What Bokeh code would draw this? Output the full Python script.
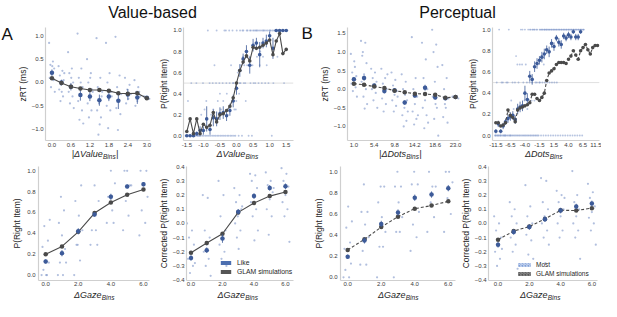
from bokeh.plotting import figure
from bokeh.models import Range1d, FixedTicker, Label, Span, Legend, LegendItem
from bokeh.layouts import column, row
from bokeh.embed import file_html
from bokeh.resources import INLINE

FONT = "Liberation Sans"
BLUE = "#3d5b99"
BLUE_FAINT = "#7d95c8"
DARK = "#4a4a4a"
SPINE = "#cfcfcf"
TXT = "#262626"
TICK_TXT = "#3a3a3a"

# ---------------- data ----------------
# Panel A1: zRT vs |dValue| bins
P1_CATS = ["0.0", "0.3", "0.6", "0.9", "1.2", "1.5", "1.8", "2.1", "2.4", "2.7", "3.0"]
P1_GLAM = [0.09, -0.01, -0.09, -0.13, -0.16, -0.16, -0.18, -0.23, -0.24, -0.23, -0.34]
P1_HUMAN = [0.21, 0.0, -0.09, -0.27, -0.30, -0.38, -0.30, -0.39, -0.26, -0.32, -0.33]
P1_ERR = [0.07, 0.06, 0.08, 0.12, 0.10, 0.12, 0.10, 0.18, 0.12, 0.14, 0.04]
P1_INDIV = [
    [0.85, 0.45, 0.38, 0.3, 0.2, 0.1, 0.05, -0.1, -0.2, 0.35],
    [0.35, 0.25, 0.15, 0.05, -0.05, -0.15, -0.3, -0.4, 0.2, -0.2],
    [0.65, 0.3, 0.2, 0.0, -0.1, -0.2, -0.3, -0.45, -0.55, 0.1],
    [1.05, 0.3, 0.1, -0.1, -0.25, -0.4, -0.6, -0.8, -0.88, 0.0],
    [0.5, 0.2, 0.0, -0.15, -0.3, -0.45, -0.6, -0.75, -0.2, 0.1],
    [0.95, 0.1, -0.1, -0.3, -0.45, -0.6, -0.75, -1.12, -0.2, -0.9],
    [0.85, 0.2, 0.0, -0.2, -0.35, -0.5, -0.6, -0.98, -0.3],
    [0.98, 0.15, -0.1, -0.25, -0.4, -0.55, -0.68, -1.02],
    [0.1, -0.05, -0.15, -0.25, -0.35, -0.45],
    [0.05, -0.1, -0.2, -0.3, -0.4, -0.5, -0.2],
    [-0.3, -0.35],
]
P1_YTICKS = [-1.0, -0.5, 0.0, 0.5, 1.0]

# Panel A2: P(right) vs dValue bins
P2_CATS = ["-1.5", "-1.4", "-1.3", "-1.2", "-1.1", "-1.0", "-0.9", "-0.8", "-0.7", "-0.6",
           "-0.5", "-0.4", "-0.3", "-0.2", "-0.1", "0.0", "0.1", "0.2", "0.3", "0.4",
           "0.5", "0.6", "0.7", "0.8", "0.9", "1.0", "1.1", "1.2", "1.3", "1.4", "1.5"]
P2_GLAM = [0.04, 0.16, 0.02, 0.16, 0.02, 0.11, 0.08, 0.10, 0.22, 0.13, 0.20, 0.21, 0.24, 0.28,
           0.36, 0.50, 0.62, 0.70, 0.76, 0.71, 0.84, 0.83, 0.84, 0.86, 0.88, 0.91, 0.77, 0.90,
           0.97, 0.78, 0.82]
P2_HUMAN = [0.0, 0.0, 0.0, 0.02, 0.05, 0.05, 0.16, 0.06, 0.17, 0.16, 0.21, 0.22, 0.19, 0.24,
            0.33, 0.45, 0.62, 0.73, 0.80, 0.67, 0.86, 0.88, 0.77, 0.88, 0.90, 0.95, 0.83, 1.0,
            1.0, 1.0, 1.0]
P2_ERR = [0.0, 0.0, 0.0, 0.02, 0.04, 0.04, 0.12, 0.05, 0.08, 0.07, 0.06, 0.06, 0.05, 0.05,
          0.06, 0.06, 0.06, 0.05, 0.06, 0.08, 0.06, 0.05, 0.12, 0.05, 0.06, 0.04, 0.10, 0.0,
          0.0, 0.0, 0.0]
P2_INDIV = [
    [0, 0, 0, 0.33], [0, 0, 0, 0.5], [0, 0, 0, 0], [0, 0, 0.5, 0], [0, 0, 0, 0.2],
    [0, 0, 0.5, 0.25], [0, 0, 0.33, 1.0], [0, 0, 0.5, 0.2], [0, 0, 0.5, 0.67, 0.25],
    [0, 0, 0.5, 0.33, 1.0], [0, 0, 0.5, 0.25, 0.4], [0, 0, 0.5, 1.0, 0.33],
    [0, 0, 0.5, 0.2, 0.4, 1.0], [0, 0, 0.5, 0.67, 0.3, 1.0], [0, 0, 0.5, 0.25, 0.5, 1.0],
    [0, 0.5, 0.33, 0.6, 1.0, 0.25], [0, 0.5, 0.5, 0.67, 1.0, 0.4], [0, 0.5, 0.75, 0.67, 1.0, 1.0],
    [0.5, 0.67, 0.8, 1.0, 1.0, 0.33], [0, 0.5, 0.75, 1.0, 1.0, 0.67], [0, 0.5, 0.67, 1.0, 1.0],
    [0.5, 0.75, 1.0, 1.0, 1.0], [0.5, 0.8, 1.0, 1.0, 0.67], [0.5, 1.0, 1.0, 1.0, 0.75],
    [0.5, 0.67, 1.0, 1.0], [0.5, 1.0, 1.0, 1.0], [0, 0.5, 1.0, 1.0], [1.0, 1.0, 1.0, 0.75],
    [1.0, 1.0, 1.0, 1.0], [1.0, 1.0, 1.0, 0.5], [1.0, 1.0, 1.0, 1.0],
]
P_YTICKS = [0.0, 0.2, 0.4, 0.6, 0.8, 1.0]

# Panel B1: zRT vs |dDots| bins
P3_CATS = ["1.0", "3.2", "5.4", "7.6", "9.8", "12.0", "14.2", "16.4", "18.6", "20.8", "23.0"]
P3_GLAM = [0.15, 0.12, 0.07, 0.03, -0.04, -0.08, -0.12, -0.13, -0.15, -0.23, -0.21]
P3_HUMAN = [0.27, 0.30, 0.10, -0.05, -0.03, -0.36, -0.17, 0.04, -0.22, -0.24, -0.21]
P3_ERR = [0.06, 0.07, 0.05, 0.05, 0.05, 0.06, 0.06, 0.08, 0.06, 0.06, 0.03]
P3_INDIV = [
    [0.95, 0.6, 0.45, 0.35, 0.25, 0.15, 0.05, -0.05, -0.2, 0.75],
    [1.3, 1.25, 1.0, 0.7, 0.4, 0.2, 0.0, -0.2, -0.4, -0.52, 0.9],
    [0.55, 0.45, 0.3, 0.2, 0.1, 0.0, -0.1, -0.3, -0.5],
    [0.55, 0.3, 0.15, 0.0, -0.1, -0.25, -0.4, -0.6, 0.4],
    [0.45, 0.25, 0.1, -0.05, -0.15, -0.3, -0.45, -0.6, -0.2],
    [0.4, 0.2, 0.0, -0.3, -0.5, -0.7, -0.85, -1.0, -0.6, -0.15],
    [1.4, 0.3, 0.0, -0.2, -0.4, -0.6, -0.8, -0.95, -0.7],
    [1.25, 0.8, 0.3, 0.0, -0.3, -0.5, -0.7, -1.05, -0.9],
    [1.6, 1.2, 1.0, 0.6, 0.2, -0.2, -0.5, -0.8, -1.25, -0.4],
    [0.65, 0.3, 0.0, -0.25, -0.5, -0.75, -0.9, -0.4],
    [-0.2, -0.25],
]
P3_YTICKS = [-1.0, -0.5, 0.0, 0.5, 1.0, 1.5]

# Panel B2: P(right) vs dDots bins (43 bins, every 6th labelled)
P4_TICK_LABELS = ["-11.5", "-6.5", "-4.0", "-1.5", "1.5", "4.0", "6.5", "11.5"]
P4_GLAM = [0.12, 0.12, 0.09, 0.10, 0.12, 0.24, 0.19, 0.17, 0.13, 0.24, 0.26, 0.27, 0.28, 0.29,
           0.31, 0.39, 0.39, 0.35, 0.33, 0.36, 0.40, 0.52, 0.59, 0.61, 0.63, 0.67, 0.69, 0.69,
           0.69, 0.68, 0.72, 0.75, 0.80, 0.76, 0.72, 0.80, 0.83, 0.86, 0.81, 0.77, 0.83, 0.85,
           0.85]
P4_HUMAN = [0.04, 0.11, 0.04, 0.09, 0.13, 0.16, 0.18, 0.19, 0.15, 0.25, 0.27, 0.28, 0.40, 0.34,
            0.56, 0.53, 0.65, 0.68, 0.71, 0.74, 0.77, 0.81, 0.79, 0.87, 0.84, 0.92, 0.88, 0.86,
            0.94, 0.92, 0.95, 0.93, 0.98, 0.93, 0.93, 0.98]
P4_ERR = [0.02, 0.03, 0.02, 0.03, 0.03, 0.04, 0.04, 0.04, 0.04, 0.05, 0.05, 0.05, 0.07, 0.06,
          0.05, 0.05, 0.05, 0.05, 0.04, 0.05, 0.05, 0.04, 0.05, 0.04, 0.04, 0.03, 0.04, 0.04,
          0.03, 0.03, 0.03, 0.03, 0.02, 0.03, 0.03, 0.02]
P4_INDIV = [
    [0, 0, 0, 0.5], [0, 0, 0, 1.0], [0, 0, 0, 0.5], [0, 0, 0.5, 0], [0, 0, 0, 0.5],
    [0, 0, 0.5, 1.0], [0, 0, 0, 0.33], [0, 0, 0.5, 0.25], [0, 0, 0.5, 0.75], [0, 0, 0.67, 0.5],
    [0, 0, 0.67, 1.0], [0, 0, 0.67, 0.5, 1.0], [0, 0, 0.33, 0.67, 1.0], [0, 0, 0.5, 1.0, 0.25],
    [0, 0, 0.5, 1.0, 1.0, 0.33], [0, 0, 0.5, 1.0, 1.0, 0.33], [0, 0, 0.33, 0.5, 1.0, 1.0],
    [0, 0, 0.5, 0.67, 1.0, 1.0], [0, 0.5, 0.5, 1.0, 1.0, 0.33], [0, 0.5, 0.75, 1.0, 1.0, 1.0],
    [0, 0.5, 1.0, 1.0, 1.0, 0.67], [0, 0.5, 1.0, 1.0, 1.0], [0, 0.5, 1.0, 1.0, 1.0],
    [0, 0.5, 1.0, 1.0, 1.0], [0, 0.5, 1.0, 1.0, 1.0], [0, 0.5, 1.0, 1.0, 1.0],
    [0, 1.0, 1.0, 1.0], [0, 1.0, 1.0, 1.0], [0, 1.0, 1.0, 1.0], [0, 1.0, 1.0, 1.0],
    [0, 1.0, 1.0, 1.0], [0, 1.0, 1.0, 1.0], [0, 1.0, 1.0, 1.0], [0, 1.0, 1.0, 1.0],
    [0, 1.0, 1.0, 1.0], [0, 1.0, 1.0, 1.0], [0, 1.0, 1.0, 1.0],
]

# Bottom row: gaze bins
GAZE_CATS = ["0.0", "1.0", "2.0", "3.0", "4.0", "5.0", "6.0"]
P5_GLAM = [0.20, 0.275, 0.415, 0.595, 0.695, 0.77, 0.82]
P5_HUMAN = [0.13, 0.21, 0.42, 0.58, 0.75, 0.85, 0.87]
P5_ERR = [0.02, 0.03, 0.03, 0.02, 0.03, 0.02, 0.02]
P5_INDIV = [
    [0.0, 0.0, 0.05, 0.12, 0.2, 0.27, 0.33, 0.47, 0.53, 0.0],
    [0.0, 0.0, 0.12, 0.25, 0.38, 0.5, 0.62, 0.75, 0.12],
    [0.0, 0.14, 0.29, 0.43, 0.57, 0.71, 0.86, 0.29],
    [0.29, 0.43, 0.57, 0.71, 0.86, 0.43, 0.29],
    [0.5, 0.62, 0.75, 0.88, 1.0, 0.75, 0.5],
    [0.43, 0.57, 0.71, 0.86, 1.0, 1.0, 0.86],
    [0.38, 0.5, 0.62, 0.75, 0.88, 1.0, 1.0, 0.88],
]
P6_GLAM = [-0.207, -0.138, -0.073, 0.078, 0.144, 0.193, 0.222]
P6_HUMAN = [-0.244, -0.189, -0.107, 0.082, 0.193, 0.251, 0.262]
P6_ERR = [0.02, 0.02, 0.03, 0.02, 0.02, 0.02, 0.02]
P6_INDIV = [
    [0.0, -0.05, -0.1, -0.15, -0.2, -0.25, -0.3, -0.35, -0.28],
    [0.2, 0.18, -0.05, -0.1, -0.15, -0.2, -0.25, -0.3, -0.37],
    [0.3, 0.2, 0.05, -0.05, -0.1, -0.15, -0.2, -0.25, -0.3],
    [0.25, 0.2, 0.15, 0.1, 0.05, 0.0, -0.05, -0.1, 0.12, -0.18],
    [0.35, 0.34, 0.3, 0.25, 0.2, 0.15, 0.1, 0.05, -0.05, -0.12],
    [0.36, 0.3, 0.27, 0.22, 0.17, 0.1, 0.05, -0.08, 0.25],
    [0.39, 0.35, 0.3, 0.26, 0.2, 0.15, 0.1, 0.05, -0.13],
]
P7_GLAM = [0.26, 0.36, 0.476, 0.575, 0.65, 0.68, 0.72]
P7_HUMAN = [0.195, 0.35, 0.506, 0.614, 0.754, 0.784, 0.845]
P7_ERR = [0.02, 0.03, 0.03, 0.03, 0.03, 0.03, 0.03]
P7_INDIV = [
    [0.0, 0.0, 0.07, 0.13, 0.2, 0.27, 0.33, 0.47, 0.53, 0.67],
    [0.12, 0.12, 0.25, 0.38, 0.5, 0.62, 0.62, 0.88],
    [0.0, 0.29, 0.29, 0.43, 0.57, 0.71, 0.86, 0.86],
    [0.0, 0.43, 0.43, 0.57, 0.71, 0.86, 0.86, 1.0],
    [0.25, 0.38, 0.5, 0.62, 0.75, 0.88, 0.88, 1.0],
    [0.43, 0.57, 0.71, 0.86, 0.86, 1.0],
    [0.43, 0.6, 0.75, 0.9, 1.0, 1.0],
]
P8_GLAM = [-0.115, -0.054, -0.022, 0.032, 0.093, 0.091, 0.108]
P8_HUMAN = [-0.151, -0.06, -0.026, 0.03, 0.091, 0.119, 0.141]
P8_ERR = [0.02, 0.02, 0.02, 0.02, 0.02, 0.02, 0.02]
P8_INDIV = [
    [0.05, 0.0, -0.05, -0.1, -0.15, -0.2, -0.25, -0.3, -0.18],
    [0.15, 0.1, 0.05, 0.0, -0.05, -0.1, -0.15, -0.2, -0.32],
    [0.27, 0.12, 0.05, 0.0, -0.03, -0.08, -0.12, -0.22, -0.25],
    [0.32, 0.3, 0.15, 0.1, 0.05, 0.0, -0.05, -0.1, -0.15, -0.28],
    [0.23, 0.2, 0.15, 0.1, 0.05, 0.0, -0.05, -0.1, 0.18],
    [0.37, 0.2, 0.15, 0.1, 0.05, 0.0, -0.05, -0.1, -0.25],
    [0.28, 0.22, 0.18, 0.12, 0.08, 0.04, 0.0, -0.05, -0.15],
]
CORR_YTICKS = [-0.4, -0.3, -0.2, -0.1, 0.0, 0.1, 0.2, 0.3, 0.4]

# ---------------- helpers ----------------
CW = {"|": 0.26, "Δ": 0.67, "V": 0.667, "a": 0.556, "l": 0.222, "u": 0.556, "e": 0.556,
      "D": 0.722, "o": 0.556, "t": 0.278, "s": 0.5, "G": 0.778, "z": 0.5, "B": 0.667,
      "i": 0.222, "n": 0.556}


def text_w(s, size):
    return sum(CW.get(c, 0.55) for c in s) * size


def yfmt(v):
    return ("%.1f" % v).replace("-", "\u2212")


def blank_fig(w, h):
    p = figure(width=w, height=h, x_range=Range1d(0, 1), y_range=Range1d(0, 1),
               min_border=0, x_axis_location=None, y_axis_location=None,
               output_backend="svg", toolbar_location=None)
    p.outline_line_color = None
    p.grid.grid_line_color = None
    p.background_fill_color = "white"
    p.border_fill_color = "white"
    return p


def make_fig(w, h, bl, br, bt, bb, xr, yr):
    p = figure(width=w, height=h, x_range=Range1d(*xr), y_range=Range1d(*yr),
               min_border_left=bl, min_border_right=br, min_border_top=bt,
               min_border_bottom=bb, output_backend="svg", toolbar_location=None)
    p.outline_line_color = None
    p.xgrid.grid_line_color = None
    p.ygrid.grid_line_color = None
    p.background_fill_color = "white"
    p.border_fill_color = "white"
    return p


def style_axes(p, xticks, xlabels, yticks, ylabel, xstand, ystand, lstand):
    xa = p.xaxis[0]
    ya = p.yaxis[0]
    xa.ticker = FixedTicker(ticks=xticks)
    xa.major_label_overrides = {t: l for t, l in zip(xticks, xlabels)}
    ya.ticker = FixedTicker(ticks=yticks)
    ya.major_label_overrides = {t: yfmt(t) for t in yticks}
    ya.axis_label = ylabel
    for ax in (xa, ya):
        ax.axis_line_color = SPINE
        ax.axis_line_width = 1.2
        ax.major_tick_line_color = None
        ax.minor_tick_line_color = None
        ax.major_tick_out = 0
        ax.major_tick_in = 0
        ax.minor_tick_out = 0
        ax.minor_tick_in = 0
        ax.major_label_text_font = FONT
        ax.major_label_text_font_size = "6px"
        ax.major_label_text_color = TICK_TXT
        ax.axis_label_text_font = FONT
        ax.axis_label_text_font_size = "8.5px"
        ax.axis_label_text_font_style = "normal"
        ax.axis_label_text_color = TXT
    xa.major_label_standoff = xstand
    ya.major_label_standoff = ystand
    ya.axis_label_standoff = lstand


def add_xlabel(strip_fig, cx, y, bar, main, sub):
    head = bar + "Δ" + main
    tail = bar
    total = text_w(head, 9) + text_w(sub, 6.5) + text_w(tail, 9)
    split = cx - total / 2.0 + text_w(head, 9)
    common = dict(x_units="screen", y_units="screen", text_font=FONT,
                  text_font_style="italic", text_color=TXT, text_baseline="middle")
    strip_fig.add_layout(Label(x=split, y=y, text=head, text_align="right",
                               text_font_size="9px", **common))
    strip_fig.add_layout(Label(x=split + 0.3, y=y - 2.5, text=sub, text_align="left",
                               text_font_size="6.5px", **common))
    if tail:
        strip_fig.add_layout(Label(x=split + text_w(sub, 6.5) + 0.6, y=y, text=tail,
                                   text_align="left", text_font_size="9px", **common))


def strip(groups, half):
    xs, ys = [], []
    for i, vals in enumerate(groups):
        m = len(vals)
        order = sorted(range(m), key=lambda k: (k * 0.6180339) % 1.0)
        rank = {k: r for r, k in enumerate(order)}
        for k, v in enumerate(vals):
            pos = (rank[k] / (m - 1) - 0.5) if m > 1 else 0.0
            xs.append(i + pos * 2 * half)
            ys.append(v)
    return xs, ys


def draw(p, glam, human, err, indiv, half, dsize, fsize, falpha, dash, human_on_top):
    fx, fy = strip(indiv, half)
    p.scatter(fx, fy, size=fsize, color=BLUE_FAINT, alpha=falpha, line_color=None)
    xg = list(range(len(glam)))
    xh = list(range(len(human)))

    def draw_glam():
        p.line(xg, glam, line_color=DARK, line_width=1.1, line_dash=dash)
        p.scatter(xg, glam, size=dsize, color=DARK, line_color=None)

    def draw_human():
        p.segment(x0=xh, x1=xh, y0=[h - e for h, e in zip(human, err)],
                  y1=[h + e for h, e in zip(human, err)], line_color=BLUE, line_width=1,
                  line_alpha=0.8)
        p.scatter(xh, human, size=dsize, color=BLUE, line_color=None)

    if human_on_top:
        draw_glam()
        draw_human()
    else:
        draw_human()
        draw_glam()


def legend_proxies(p, glam, human, kw_h, kw_g):
    # zero-size quads sitting on the data points: invisible, only used for legend swatches
    xg = list(range(len(glam)))
    xh = list(range(len(human)))
    rh = p.quad(left=xh, right=xh, top=human, bottom=human, line_color=None, **kw_h)
    rg = p.quad(left=xg, right=xg, top=glam, bottom=glam, line_color=None, **kw_g)
    return rh, rg


# ---------------- header ----------------
HH = 23
header = blank_fig(601, HH)
for txt, xc in (("Value-based", 152), ("Perceptual", 457)):
    header.add_layout(Label(x=xc, y=11.5, x_units="screen", y_units="screen", text=txt,
                            text_align="center", text_baseline="alphabetic",
                            text_font=FONT, text_font_size="16px", text_color="#111111"))

# ---------------- top row ----------------
H1 = 126
letterA = blank_fig(14, H1)
letterA.add_layout(Label(x=1, y=106.5, x_units="screen", y_units="screen", text="A",
                         text_font=FONT, text_font_size="17px", text_color="#111111",
                         text_align="left", text_baseline="alphabetic"))

p1 = make_fig(142, H1, 24, 6, 4, 9, (-0.68, 10.39), (-1.245, 1.18))
style_axes(p1, list(range(0, 11, 2)), P1_CATS[0::2], P1_YTICKS, "zRT (ms)", 2, 2, 1)
draw(p1, P1_GLAM, P1_HUMAN, P1_ERR, P1_INDIV, 0.3, 4.5, 2.2, 0.6, "solid", False)

p2 = make_fig(140, H1, 24, 3, 4, 9, (-1.0, 32.2), (-0.045, 1.028))
style_axes(p2, list(range(0, 31, 5)), P2_CATS[0::5], P_YTICKS, "P(Right Item)", 2, 2, 1)
p2.add_layout(Span(location=0.5, dimension="width", line_color="#d8d8d8", line_width=0.8,
                   level="underlay"))
draw(p2, P2_GLAM, P2_HUMAN, P2_ERR, P2_INDIV, 0.35, 3.6, 1.9, 0.55, "solid", False)

letterB = blank_fig(20, H1)
letterB.add_layout(Label(x=5, y=107.5, x_units="screen", y_units="screen", text="B",
                         text_font=FONT, text_font_size="17px", text_color="#111111",
                         text_align="left", text_baseline="alphabetic"))

p3 = make_fig(149, H1, 24, 6, 4, 9, (-0.63, 10.39), (-1.38, 1.66))
style_axes(p3, list(range(0, 11, 2)), P3_CATS[0::2], P3_YTICKS, "zRT (ms)", 2, 2, 1)
draw(p3, P3_GLAM, P3_HUMAN, P3_ERR, P3_INDIV, 0.3, 4.5, 2.2, 0.6, "3 2", False)

p4 = make_fig(136, H1, 22, 2, 4, 9, (-1.39, 42.8), (-0.047, 1.02))
style_axes(p4, list(range(0, 43, 6)), P4_TICK_LABELS, P_YTICKS, "P(Right Item)", 2, 2, 1)
p4.add_layout(Span(location=0.5, dimension="width", line_color="#d8d8d8", line_width=0.8,
                   level="underlay"))
draw(p4, P4_GLAM, P4_HUMAN, P4_ERR, P4_INDIV, 0.35, 3.6, 1.9, 0.55, "3 2", False)

XL1 = 14
xl1 = blank_fig(601, XL1)
add_xlabel(xl1, 14 + 24 + 56, 9.5, "|", "Value", "Bins")
add_xlabel(xl1, 156 + 24 + 56.5, 9.5, "", "Value", "Bins")
add_xlabel(xl1, 296 + 20 + 24 + 59.5, 9.5, "|", "Dots", "Bins")
add_xlabel(xl1, 465 + 22 + 56, 9.5, "", "Dots", "Bins")

# ---------------- bottom row ----------------
H2 = 125
GAZE_TICKS = [0, 2, 4, 6]
GAZE_TICK_LABELS = [GAZE_CATS[i] for i in GAZE_TICKS]

p5 = make_fig(155, H2, 38, 6, 3, 8, (-0.44, 6.37), (-0.052, 1.041))
style_axes(p5, GAZE_TICKS, GAZE_TICK_LABELS, P_YTICKS, "P(Right Item)", 1, 3, 2)
draw(p5, P5_GLAM, P5_HUMAN, P5_ERR, P5_INDIV, 0.25, 4.5, 2.2, 0.6, "solid", True)

p6 = make_fig(141, H2, 26, 3, 3, 8, (-0.285, 6.51), (-0.403, 0.402))
style_axes(p6, GAZE_TICKS, GAZE_TICK_LABELS, CORR_YTICKS, "Corrected P(Right Item)", 1, 2, 1)
draw(p6, P6_GLAM, P6_HUMAN, P6_ERR, P6_INDIV, 0.25, 4.5, 2.2, 0.6, "solid", True)
lg6_h, lg6_g = legend_proxies(p6, P6_GLAM, P6_HUMAN,
                              dict(fill_color="#4c6fb0"), dict(fill_color="#555555"))
leg6 = Legend(items=[LegendItem(label="Like", renderers=[lg6_h]),
                     LegendItem(label="GLAM simulations", renderers=[lg6_g])],
              location=(33, 5), orientation="vertical", glyph_width=13, glyph_height=5,
              label_height=8, label_standoff=5, spacing=1, padding=0, margin=0,
              label_text_font=FONT, label_text_font_size="6.8px", label_text_color=TXT,
              border_line_color=None, background_fill_alpha=0)
p6.add_layout(leg6)

p7 = make_fig(161, H2, 44, 2, 3, 8, (-0.43, 6.43), (-0.03, 1.05))
style_axes(p7, GAZE_TICKS, GAZE_TICK_LABELS, P_YTICKS, "P(Right Item)", 1, 3, 2)
draw(p7, P7_GLAM, P7_HUMAN, P7_ERR, P7_INDIV, 0.25, 4.5, 2.2, 0.6, "3 2", True)

p8 = make_fig(144, H2, 25, 4, 3, 8, (-0.61, 6.36), (-0.403, 0.402))
style_axes(p8, GAZE_TICKS, GAZE_TICK_LABELS, CORR_YTICKS, "Corrected P(Right Item)", 1, 2, 1)
draw(p8, P8_GLAM, P8_HUMAN, P8_ERR, P8_INDIV, 0.25, 4.5, 2.2, 0.6, "3 2", True)
lg8_h, lg8_g = legend_proxies(
    p8, P8_GLAM, P8_HUMAN,
    dict(fill_color="#7f9fd8", hatch_pattern="/", hatch_color="#e4ebf7", hatch_scale=3,
         hatch_weight=0.8),
    dict(fill_color="#555555", hatch_pattern="/", hatch_color="#a0a0a0", hatch_scale=3,
         hatch_weight=0.8))
leg8 = Legend(items=[LegendItem(label="Most", renderers=[lg8_h]),
                     LegendItem(label="GLAM simulations", renderers=[lg8_g])],
              location=(28, 3), orientation="vertical", glyph_width=16, glyph_height=5,
              label_height=8, label_standoff=4, spacing=1, padding=0, margin=0,
              label_text_font=FONT, label_text_font_size="6.5px", label_text_color=TXT,
              border_line_color=None, background_fill_alpha=0)
p8.add_layout(leg8)

XL2 = 301 - HH - H1 - XL1 - H2
xl2 = blank_fig(601, XL2)
add_xlabel(xl2, 38 + 55.5, XL2 - 6.5, "", "Gaze", "Bins")
add_xlabel(xl2, 155 + 26 + 56, XL2 - 6.5, "", "Gaze", "Bins")
add_xlabel(xl2, 296 + 44 + 57.5, XL2 - 6.5, "", "Gaze", "Bins")
add_xlabel(xl2, 457 + 25 + 57.5, XL2 - 6.5, "", "Gaze", "Bins")

layout = column(header,
                row(letterA, p1, p2, letterB, p3, p4),
                xl1,
                row(p5, p6, p7, p8),
                xl2)
open("out.html", "w").write(file_html(layout, INLINE))
